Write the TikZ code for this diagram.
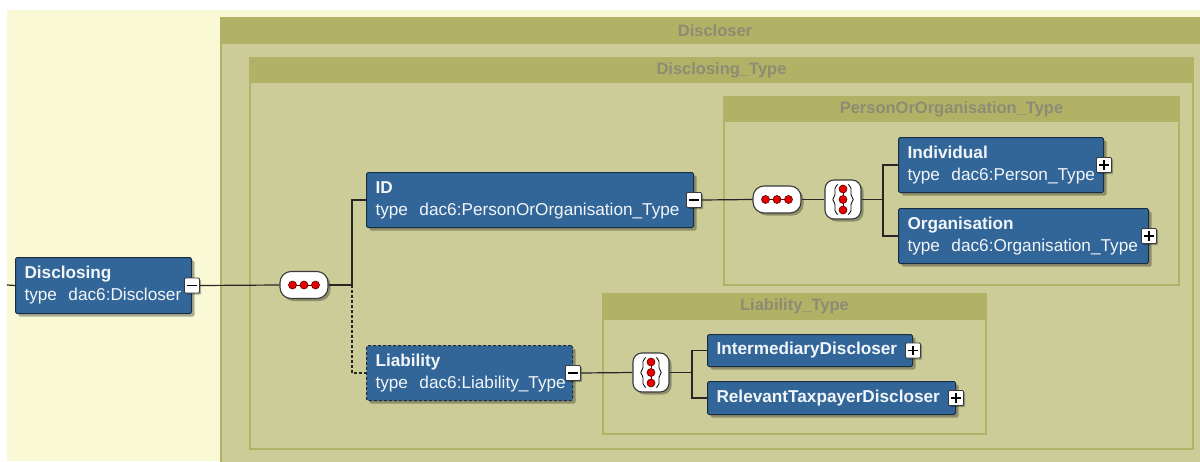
\documentclass[tikz,border=0pt]{standalone}
\usepackage{fontspec}
\setmainfont{Liberation Sans}
\usetikzlibrary{shadows}
\definecolor{bgyellow}{HTML}{F9F9D6}
\definecolor{olivedark}{HTML}{B2B266}
\definecolor{olivelight}{HTML}{CCCC99}
\definecolor{titlegray}{HTML}{8C8C74}
\definecolor{nodeblue}{HTML}{326698}
\definecolor{nodeborder}{HTML}{1A2C40}
\definecolor{nodetext}{HTML}{F2F5F9}
\definecolor{connc}{HTML}{262626}
\definecolor{icborder}{HTML}{3A3A3A}
\definecolor{dotred}{HTML}{E60000}
\definecolor{dotdark}{HTML}{5A0000}
\newcommand{\olivebox}[7]{%
  \fill[olivedark] (#2,#3) rectangle (#5,#6);
  \fill[olivelight] (#2+2,#4) rectangle (#5-2,#6-2);
  \node[typetitle] (#1) at ({(#2+#5)/2},{(#3+#4)/2}) {#7};
}
\newcommand{\minusbox}[2]{%
  \node[pmbox] (#1) at (#2) {};
  \draw[pmsign] ([xshift=3pt]#1.west) -- ([xshift=-3pt]#1.east);
}
\newcommand{\plusbox}[2]{%
  \node[pmbox] (#1) at (#2) {};
  \draw[pmsign] ([xshift=3pt]#1.west) -- ([xshift=-3pt]#1.east);
  \draw[pmsign] ([yshift=-3pt]#1.north) -- ([yshift=3pt]#1.south);
}
\newcommand{\seqdots}[1]{%
  \draw[line width=1pt, dotdark] ([xshift=-11.5pt]#1.center) -- ([xshift=11.5pt]#1.center);
  \foreach \dx in {-11.5,0,11.5}
    \filldraw[reddot] ([xshift=\dx pt]#1.center) circle (4pt);
}
\newcommand{\choicedots}[1]{%
  \begin{scope}[shift={(#1.center)}, x=1pt, y=1pt]
    \draw[line width=0.8pt, rounded corners=2pt] (-5,15)--(-8,13)--(-8,3)--(-11,0)--(-8,-3)--(-8,-13)--(-5,-15);
    \draw[line width=0.8pt, rounded corners=2pt] (5,15)--(8,13)--(8,3)--(11,0)--(8,-3)--(8,-13)--(5,-15);
    \draw[line width=1pt, dotdark] (0,10.5) -- (0,-10.5);
    \foreach \dy in {-10.5,0,10.5}
      \filldraw[reddot] (0,\dy) circle (4pt);
  \end{scope}
}
\begin{document}
\begin{tikzpicture}[x=1pt,y=-1pt,
  typetitle/.style={font=\fontsize{16.5}{18}\selectfont\bfseries, text=titlegray, inner sep=0pt},
  elem/.style={draw=nodeborder, line width=1pt, fill=nodeblue, text=nodetext, align=left,
    inner xsep=9pt, inner ysep=0pt, rounded corners=1.5pt, anchor=north west,
    font=\fontsize{17.2}{22}\selectfont,
    drop shadow={shadow xshift=3pt, shadow yshift=-3pt, opacity=0.3, fill=black}},
  optelem/.style={elem, dash pattern=on 3pt off 2pt},
  pmbox/.style={draw=icborder, line width=0.9pt, fill=white, minimum size=15pt, inner sep=0pt,
    rounded corners=1pt, drop shadow={shadow xshift=1.5pt, shadow yshift=-1.5pt, opacity=0.3, fill=black}},
  pmsign/.style={line width=1.8pt, draw=black},
  seqicon/.style={draw=icborder, line width=1.1pt, fill=white, rounded corners=11pt,
    minimum width=48pt, minimum height=27pt, inner sep=0pt,
    drop shadow={shadow xshift=2.5pt, shadow yshift=-2.5pt, opacity=0.3, fill=black}},
  choiceicon/.style={draw=icborder, line width=1.1pt, fill=white, rounded corners=9pt,
    minimum width=36pt, minimum height=39pt, inner sep=0pt,
    drop shadow={shadow xshift=2.5pt, shadow yshift=-2.5pt, opacity=0.3, fill=black}},
  reddot/.style={fill=dotred, draw=dotdark, line width=0.6pt},
  conn/.style={draw=connc, line width=1.2pt},
  optconn/.style={conn, dash pattern=on 2.5pt off 2.5pt}
]
\useasboundingbox (0,0) rectangle (1200,461);
\clip (0,0) rectangle (1200,461);
\fill[white] (0,0) rectangle (1200,461);
\fill[bgyellow] (7,10) rectangle (1200,461);

% type containers
\olivebox{tDiscloser}{220}{17}{44}{1210}{472}{Discloser}
\olivebox{tDisclosing}{249}{57}{83}{1194}{450}{Disclosing\_Type}
\olivebox{tPerson}{723}{96}{122}{1180}{286}{PersonOrOrganisation\_Type}
\olivebox{tLiability}{602}{293}{320}{987}{435}{Liability\_Type}

% elements
\node[elem, text width=158pt, minimum height=56pt] (disc) at (15,257)
  {\mbox{\textbf{Disclosing}}\\\mbox{type\ \ dac6:Discloser}};
\node[elem, text width=309pt, minimum height=55pt] (id) at (366,172)
  {\mbox{\textbf{ID}}\\\mbox{type\ \ dac6:PersonOrOrganisation\_Type}};
\node[optelem, text width=188pt, minimum height=55pt] (liab) at (366,345)
  {\mbox{\textbf{Liability}}\\\mbox{type\ \ dac6:Liability\_Type}};
\node[elem, text width=187pt, minimum height=55pt] (ind) at (898,137)
  {\mbox{\textbf{Individual}}\\\mbox{type\ \ dac6:Person\_Type}};
\node[elem, text width=232pt, minimum height=55pt] (org) at (898,208)
  {\mbox{\textbf{Organisation}}\\\mbox{type\ \ dac6:Organisation\_Type}};
\node[elem, text width=187pt, minimum height=32pt] (inter) at (707,334)
  {\mbox{\textbf{IntermediaryDiscloser}}};
\node[elem, text width=230pt, minimum height=33pt] (rel) at (707,381)
  {\mbox{\textbf{RelevantTaxpayerDiscloser}}};

% compositors
\node[seqicon] (seq1) at (304,285) {};
\node[seqicon] (seq2) at (777,199.5) {};
\node[choiceicon] (ch1) at (843,199.5) {};
\node[choiceicon] (ch2) at (651,372.5) {};
\coordinate (stub) at (7,285);
\coordinate (br1) at (352,285);
\coordinate (br2) at (883,199.5);
\coordinate (br3) at (692,372.5);

% expand / collapse boxes
\minusbox{discm}{disc.east}
\minusbox{idm}{id.east}
\minusbox{liabm}{liab.east}
\plusbox{indp}{ind.east}
\plusbox{orgp}{org.east}
\plusbox{interp}{inter.east}
\plusbox{relp}{rel.east}

% connectors
\draw[conn] (stub) -- (disc.west);
\draw[conn] (discm.east) -- (seq1.west);
\draw[conn] (seq1.east) -- (br1);
\draw[conn] (br1) |- (id.west);
\draw[optconn] (br1) |- (liab.west);
\draw[conn] (idm.east) -- (seq2.west);
\draw[conn] (seq2.east) -- (ch1.west);
\draw[conn] (ch1.east) -- (br2);
\draw[conn] (br2) |- (ind.west);
\draw[conn] (br2) |- (org.west);
\draw[conn] (liabm.east) -- (ch2.west);
\draw[conn] (ch2.east) -- (br3);
\draw[conn] (br3) |- (inter.west);
\draw[conn] (br3) |- (rel.west);

\seqdots{seq1}
\seqdots{seq2}
\choicedots{ch1}
\choicedots{ch2}
\end{tikzpicture}
\end{document}
